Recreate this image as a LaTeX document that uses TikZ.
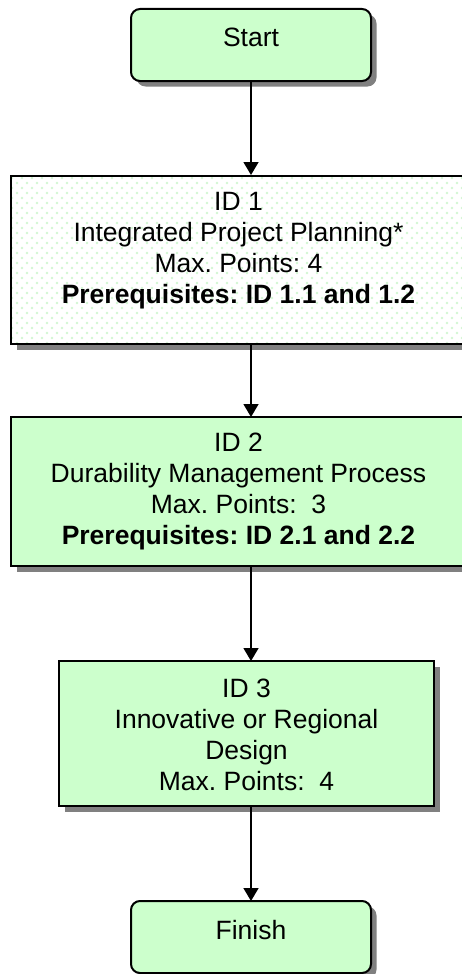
\documentclass[tikz,border=0pt]{standalone}
\usepackage{fontspec}
\setmainfont{Liberation Sans}
\usetikzlibrary{arrows.meta,shadows}
\definecolor{boxgreen}{HTML}{CCFFCC}
\definecolor{dotgreen}{HTML}{D2F7D2}
\definecolor{shadowgray}{HTML}{808080}
\frenchspacing
\begin{document}
\begin{tikzpicture}[x=1pt,y=-1pt,
  shad/.style={drop shadow={shadow xshift=5.5pt,shadow yshift=-5.5pt,fill=shadowgray,opacity=1}},
  box/.style={draw=black,line width=2pt,fill=boxgreen,inner sep=0pt,shad},
  termbox/.style={box,rounded corners=9pt,minimum width=240pt,minimum height=72pt},
  txt/.style={align=center,inner sep=0pt,font=\fontsize{26.5}{31}\selectfont},
  arr/.style={line width=1.5pt,-{Triangle[length=13pt,width=15pt]}}]
\useasboundingbox (0,0) rectangle (462,974);
% boxes
\node[termbox] (start) at (251,45) {};
\node[box,fill=white,minimum width=455pt,minimum height=168pt] (id1) at (238.5,260) {};
\begin{scope}
  \clip (12,177) rectangle (465,343);
  \foreach \j in {0,...,34}{
    \foreach \i in {0,...,46}{
      \fill[dotgreen] ({12+\i*10+mod(\j,2)*5},{178+\j*5}) circle (1.4pt);
    }
  }
\end{scope}
\node[draw=black,line width=2pt,inner sep=0pt,minimum width=455pt,minimum height=168pt] at (238.5,260) {};
\node[box,minimum width=455pt,minimum height=149pt] (id2) at (238.5,491.5) {};
\node[box,minimum width=375pt,minimum height=145pt] (id3) at (246.5,733.5) {};
\node[termbox] (finish) at (251,937) {};
% texts
\node[txt] (tstart) at (251,37.5) {Start};
\node[txt] (t1) at (238.5,251) {ID 1\\Integrated Project Planning*\\Max. Points: 4\\\textbf{Prerequisites: ID 1.1 and 1.2}};
\node[txt] (t2) at (238.5,491) {ID 2\\Durability Management Process\\Max. Points:\ \ 3\\\textbf{Prerequisites: ID 2.1 and 2.2}};
\node[txt] (t3) at (246.5,735) {ID 3\\Innovative or Regional\\Design\\Max. Points:\ \ 4};
\node[txt] (tfinish) at (251,930) {Finish};
% connectors
\draw[arr] (start.south -| 251,0) -- (id1.north -| 251,0);
\coordinate (c1) at (251,344);
\coordinate (c2) at (251,417);
\coordinate (c3) at (251,566);
\coordinate (c4) at (251,661);
\coordinate (c5) at (251,806);
\coordinate (c6) at (251,901);
\draw[arr] (c1) -- (c2);
\draw[arr] (c3) -- (c4);
\draw[arr] (c5) -- (c6);
\end{tikzpicture}
\end{document}
